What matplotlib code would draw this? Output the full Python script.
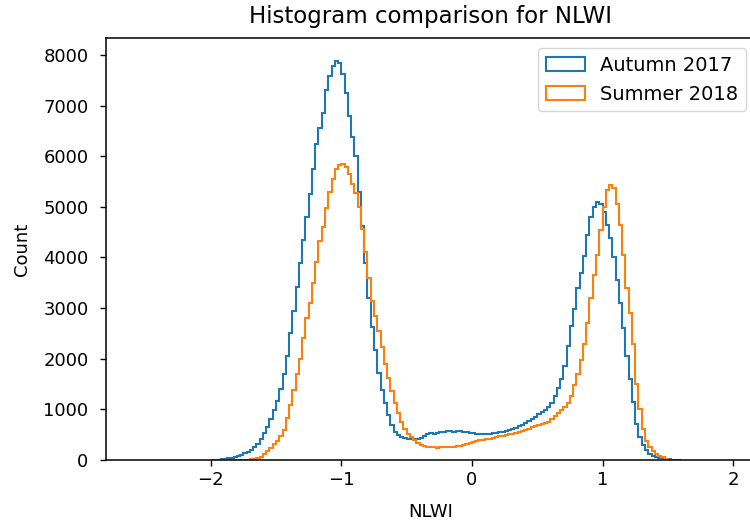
import numpy as np
import matplotlib
matplotlib.use("Agg")
import matplotlib.pyplot as plt

# --- DATA (counts per bin) ---
bin_start = -2.0
bin_stop = 1.6
n_bins = 144

autumn_2017 = [
    0, 0, 5, 15, 25, 35, 45, 60, 80, 100,
    130, 165, 205, 250, 320, 410, 540, 660, 800, 990,
    1170, 1400, 1690, 2060, 2500, 2950, 3420, 3900, 4350, 4800,
    5250, 5750, 6250, 6550, 6850, 7300, 7580, 7780, 7880, 7850,
    7620, 7250, 6800, 6380, 6000, 5300, 4620, 3900, 3200, 2620,
    2180, 1720, 1380, 1120, 880, 700, 560, 490, 450, 425,
    410, 405, 410, 420, 440, 480, 520, 540, 520, 530,
    550, 560, 570, 575, 560, 570, 580, 560, 550, 540,
    530, 520, 515, 510, 510, 520, 525, 535, 545, 555,
    570, 590, 615, 640, 675, 700, 730, 765, 800, 850,
    900, 940, 990, 1050, 1130, 1260, 1420, 1600, 1850, 2250,
    2650, 2990, 3400, 3700, 4020, 4450, 4800, 5000, 5100, 5060,
    4900, 4650, 4380, 4000, 3550, 3100, 2600, 2050, 1600, 1150,
    720, 460, 300, 190, 120, 80, 55, 40, 30, 20,
    12, 5, 0, 0,
]

summer_2018 = [
    0, 0, 0, 0, 0, 0, 0, 0, 0, 0,
    3, 8, 14, 20, 35, 60, 110, 170, 230, 310,
    380, 470, 600, 820, 1080, 1380, 1700, 2000, 2400, 2800,
    3100, 3500, 3920, 4330, 4600, 4980, 5300, 5560, 5750, 5830,
    5840, 5780, 5640, 5450, 5280, 5000, 4560, 4100, 3600, 3150,
    2850, 2550, 2240, 1900, 1620, 1370, 1130, 930, 760, 620,
    520, 450, 390, 340, 300, 275, 260, 255, 250, 245,
    250, 250, 255, 260, 265, 275, 285, 300, 320, 340,
    355, 370, 385, 400, 410, 420, 435, 450, 465, 480,
    490, 505, 520, 540, 560, 580, 600, 620, 645, 670,
    690, 710, 730, 760, 800, 860, 920, 980, 1040, 1120,
    1260, 1480, 1700, 1980, 2300, 2700, 3200, 3650, 4050, 4550,
    5000, 5330, 5430, 5380, 5050, 4650, 4050, 3400, 2900, 2300,
    1500, 1000, 620, 380, 250, 180, 125, 85, 50, 25,
    8, 0, 0, 0,
]

labels = ["Autumn 2017", "Summer 2018"]

edges = np.linspace(bin_start, bin_stop, n_bins + 1)
centers = (edges[:-1] + edges[1:]) / 2

# --- PLOT ---
fig = plt.figure(figsize=(7.5, 5.23), dpi=100)
# right edge runs a little past the figure, like the cropped original
ax = fig.add_axes([0.1413, 0.1205, 0.8667, 0.8063])

ax.hist(centers, bins=edges, weights=autumn_2017, histtype="step",
        color="#1f77b4", linewidth=1.5, label=labels[0])
ax.hist(centers, bins=edges, weights=summer_2018, histtype="step",
        color="#ff7f0e", linewidth=1.5, label=labels[1])

ax.set_xlim(-2.802, 2.175)
ax.set_ylim(0, 8330)
ax.set_xticks([-2, -1, 0, 1, 2])
ax.set_yticks(range(0, 8001, 1000))

ax.set_title("Histogram comparison for NLWI", fontsize=16.5, pad=11)
ax.set_xlabel("NLWI", fontsize=13, labelpad=10)
ax.set_ylabel("Count", fontsize=13, labelpad=9)
ax.tick_params(labelsize=13, length=4.5, width=1.0)
ax.tick_params(axis="y", pad=8)
for s in ax.spines.values():
    s.set_linewidth(1.1)

ax.legend(loc="upper right", fontsize=14)

fig.savefig("out.png", dpi=100)
